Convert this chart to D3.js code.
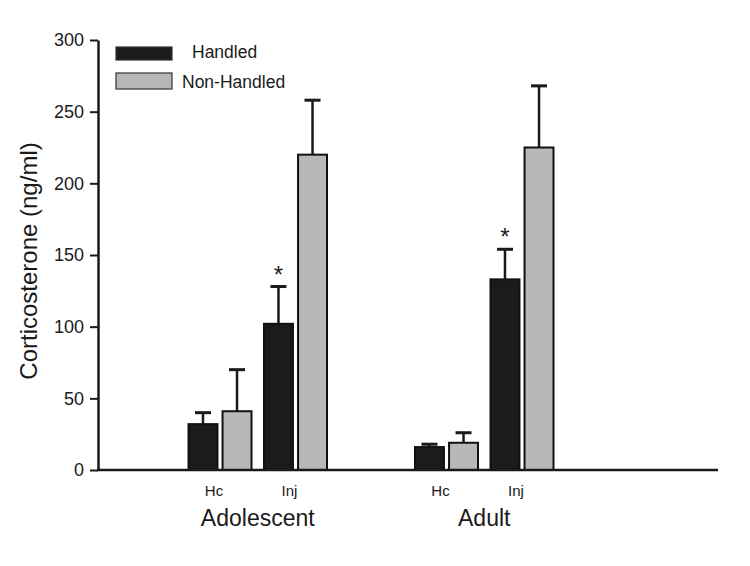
<!DOCTYPE html>
<html>
<head>
<meta charset="utf-8">
<script src="https://cdn.jsdelivr.net/npm/d3@7"></script>
<style>
  body { margin: 0; background: #fff; }
  text { font-family: "Liberation Sans", Arial, sans-serif; fill: #1a1a1a; }
</style>
</head>
<body>
<svg width="750" height="566"></svg>
<script>
"use strict";

const ages = ["Adolescent", "Adult"];
const conditions = ["Hc", "Inj"];
const series = ["Handled", "Non-Handled"];
// mean values, order: Adolescent Hc, Adolescent Inj, Adult Hc, Adult Inj
const handledMean = [32, 102, 16, 133];
const handledErr = [8, 26, 2, 21];
const nonHandledMean = [41, 220, 19, 225];
const nonHandledErr = [29, 38, 7, 43];
const significant = [false, true, false, true];
const yTicks = [0, 50, 100, 150, 200, 250, 300];

const colors = {"Handled": "#1b1b1b", "Non-Handled": "#b8b8b8"};

window.addEventListener("load", drawChart);

function drawChart() {
    const svg = d3.select("svg");

    const rows = [];
    ages.forEach((age, a) => {
        conditions.forEach((cond, c) => {
            const i = a * 2 + c;
            rows.push({age: age, cond: cond, slot: a * 3 + c,
                values: [
                    {key: "Handled", mean: handledMean[i], err: handledErr[i], star: significant[i]},
                    {key: "Non-Handled", mean: nonHandledMean[i], err: nonHandledErr[i], star: false}
                ]});
        });
    });

    const x0 = 98, x1 = 718, yBase = 470, yTop = 40;

    // slot positions 0,1 (adolescent) and 3,4 (adult)
    const xSlot = d3.scaleLinear()
        .domain([0, 4])
        .range([220, 522]);

    const xInner = d3.scaleBand()
        .domain(series)
        .range([-31.5, 31.5])
        .paddingInner(0.15);

    const y = d3.scaleLinear()
        .domain([0, 300])
        .range([yBase, yTop]);

    // y axis
    const yAxis = svg.append("g")
        .attr("transform", `translate(${x0}, 0)`)
        .call(d3.axisLeft(y).tickValues(yTicks).tickSize(8).tickPadding(6).tickSizeOuter(0));
    yAxis.select(".domain").attr("stroke", "#1a1a1a").attr("stroke-width", 2.5);
    yAxis.selectAll(".tick line").attr("stroke", "#1a1a1a").attr("stroke-width", 2);
    yAxis.selectAll(".tick text")
        .attr("font-size", 18)
        .attr("font-family", "Liberation Sans, Arial, sans-serif")
        .attr("fill", "#1a1a1a");

    // bars
    const groups = svg.selectAll("g.cond")
        .data(rows)
        .join("g")
            .attr("class", "cond")
            .attr("transform", d => `translate(${xSlot(d.slot)}, 0)`);

    // error bars (upper only)
    groups.selectAll("line.err")
        .data(d => d.values)
        .join("line")
            .attr("class", "err")
            .attr("x1", d => xInner(d.key) + xInner.bandwidth() / 2)
            .attr("x2", d => xInner(d.key) + xInner.bandwidth() / 2)
            .attr("y1", d => y(d.mean))
            .attr("y2", d => y(d.mean + d.err))
            .attr("stroke", "#1a1a1a")
            .attr("stroke-width", 2.5);

    groups.selectAll("line.cap")
        .data(d => d.values)
        .join("line")
            .attr("class", "cap")
            .attr("x1", d => xInner(d.key) + xInner.bandwidth() / 2 - 8)
            .attr("x2", d => xInner(d.key) + xInner.bandwidth() / 2 + 8)
            .attr("y1", d => y(d.mean + d.err))
            .attr("y2", d => y(d.mean + d.err))
            .attr("stroke", "#1a1a1a")
            .attr("stroke-width", 3);

    groups.selectAll("rect")
        .data(d => d.values)
        .join("rect")
            .attr("x", d => xInner(d.key))
            .attr("y", d => y(d.mean))
            .attr("width", xInner.bandwidth())
            .attr("height", d => y(0) - y(d.mean))
            .attr("fill", d => colors[d.key])
            .attr("stroke", "#111")
            .attr("stroke-width", 2);

    groups.selectAll("text.star")
        .data(d => d.values.filter(v => v.star))
        .join("text")
            .attr("class", "star")
            .attr("x", d => xInner(d.key) + xInner.bandwidth() / 2)
            .attr("y", d => y(d.mean + d.err) - 4)
            .attr("text-anchor", "middle")
            .attr("font-size", 24)
            .text("*");

    // condition labels
    groups.append("text")
        .attr("x", -6)
        .attr("y", 496)
        .attr("text-anchor", "middle")
        .attr("font-size", 15)
        .text(d => d.cond);

    // x axis line
    svg.append("line")
        .attr("x1", x0 - 1)
        .attr("x2", x1)
        .attr("y1", yBase)
        .attr("y2", yBase)
        .attr("stroke", "#1a1a1a")
        .attr("stroke-width", 2.5);

    // age labels
    svg.selectAll("text.age")
        .data(ages)
        .join("text")
            .attr("class", "age")
            .attr("x", (d, i) => (xSlot(i * 3) + xSlot(i * 3 + 1)) / 2)
            .attr("y", 526)
            .attr("text-anchor", "middle")
            .attr("font-size", 23)
            .text(d => d);

    // y label
    svg.append("text")
        .attr("font-size", 24)
        .attr("text-anchor", "middle")
        .attr("transform", `translate(37, 261) rotate(-90)`)
        .text("Corticosterone (ng/ml)");

    // legend
    const legend = svg.append("g").selectAll("g")
        .data(series)
        .join("g")
            .attr("transform", (d, i) => `translate(116, ${i === 0 ? 47 : 73})`);
    legend.append("rect")
        .attr("width", 56)
        .attr("height", (d, i) => i === 0 ? 13 : 16)
        .attr("fill", d => colors[d])
        .attr("stroke", "#333")
        .attr("stroke-width", 1.2);
    legend.append("text")
        .attr("x", (d, i) => i === 0 ? 76 : 66)
        .attr("y", (d, i) => i === 0 ? 11 : 15)
        .attr("font-size", 17.5)
        .text(d => d);
}
</script>
</body>
</html>
